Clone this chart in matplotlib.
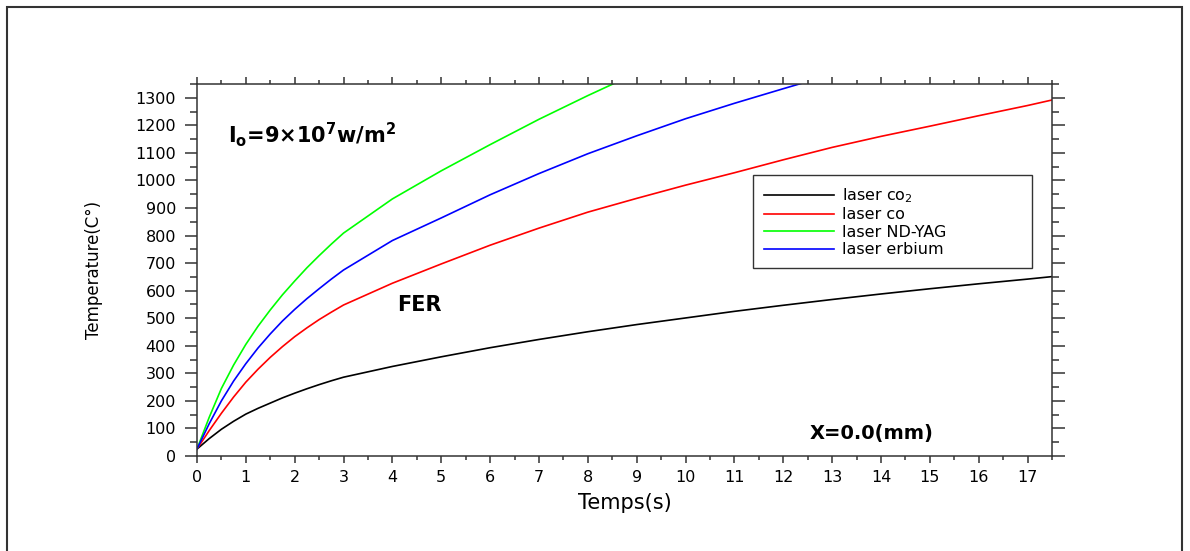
import matplotlib
matplotlib.use("Agg")
import matplotlib.pyplot as plt
from matplotlib.patches import Rectangle
from matplotlib.ticker import MultipleLocator

# data (temperature in C vs time in s)
t_all = [0, 0.25, 0.5, 0.75, 1, 1.25, 1.5, 1.75, 2, 2.25, 2.5, 2.75, 3,
         4, 5, 6, 7, 8, 9, 10, 11, 12, 13, 14, 15, 16, 17, 17.5]
temp_co2 = [25, 63, 97, 126, 152, 173, 192, 211, 228, 244, 259, 273, 286,
            325, 360, 393, 423, 451, 477, 501, 525, 547, 568, 588, 607, 625, 642, 651]
temp_co = [25, 92, 155, 214, 268, 315, 358, 397, 433, 465, 495, 522, 548,
           627, 697, 765, 827, 885, 935, 983, 1028, 1075, 1120, 1160, 1197, 1235, 1272, 1292]

t_yag = [0, 0.25, 0.5, 0.75, 1, 1.25, 1.5, 1.75, 2, 2.25, 2.5, 2.75, 3,
         4, 5, 6, 7, 8, 9]
temp_yag = [25, 140, 245, 330, 405, 471, 530, 585, 635, 683, 727, 769, 809,
            933, 1035, 1130, 1222, 1308, 1390]

t_erb = [0, 0.25, 0.5, 0.75, 1, 1.25, 1.5, 1.75, 2, 2.25, 2.5, 2.75, 3,
         4, 5, 6, 7, 8, 9, 10, 11, 12, 13]
temp_erb = [25, 117, 200, 272, 335, 392, 443, 490, 532, 571, 607, 642, 675,
            782, 864, 948, 1025, 1097, 1162, 1224, 1280, 1333, 1385]

labels = ["laser co$_2$", "laser co", "laser ND-YAG", "laser erbium"]
colors = ["black", "#ff0000", "#00ff00", "#0000ff"]

plt.rcParams["font.family"] = ["DejaVu Sans"]

fig = plt.figure(figsize=(11.9, 5.51), dpi=100)
ax = fig.add_axes([0.1655, 0.1724, 0.7185, 0.6751])

ax.plot(t_all, temp_co2, color=colors[0], lw=1.2, label=labels[0])
ax.plot(t_all, temp_co, color=colors[1], lw=1.2, label=labels[1])
ax.plot(t_yag, temp_yag, color=colors[2], lw=1.2, label=labels[2])
ax.plot(t_erb, temp_erb, color=colors[3], lw=1.2, label=labels[3])

ax.set_xlim(0, 17.5)
ax.set_ylim(0, 1350)
ax.xaxis.set_major_locator(MultipleLocator(1))
ax.xaxis.set_minor_locator(MultipleLocator(0.5))
ax.yaxis.set_major_locator(MultipleLocator(100))
ax.yaxis.set_minor_locator(MultipleLocator(50))

ax.tick_params(axis="x", which="both", direction="out", top=True, bottom=True,
               labelsize=11.5, pad=5, width=1.1, color="#333333")
ax.tick_params(axis="x", which="major", length=5)
ax.tick_params(axis="x", which="minor", length=2.8)
ax.tick_params(axis="y", which="both", direction="out", left=True, right=True,
               labelsize=11.5, pad=6, width=1.1, color="#333333")
ax.tick_params(axis="y", which="major", length=9)
ax.tick_params(axis="y", which="minor", length=5)
for sp in ax.spines.values():
    sp.set_linewidth(1.1)
    sp.set_color("#333333")

ax.set_xlabel("Temps(s)", fontsize=15)
ax.xaxis.set_label_coords(0.5, -0.10)
ax.set_ylabel("Temperature(C°)", fontsize=12)
ax.yaxis.set_label_coords(-0.110, 0.5)

ax.text(0.63, 1136, r"I$_\mathbf{o}$=9×10$^\mathbf{7}$w/m$^\mathbf{2}$",
        fontsize=15, fontweight="bold", ha="left", va="baseline")
ax.text(4.09, 548, "FER", fontsize=15, fontweight="bold", ha="left", va="center")
ax.text(12.55, 83, "X=0.0(mm)", fontsize=14, fontweight="bold", ha="left", va="center")

leg = ax.legend(loc="upper left", bbox_to_anchor=(0.650, 0, 0.3266, 0.755),
                mode="expand", borderaxespad=0, fancybox=False, frameon=True,
                fontsize=11.5, handlelength=4.4, handletextpad=0.5,
                labelspacing=0.15, borderpad=0.7)
leg.get_frame().set_edgecolor("#333333")
leg.get_frame().set_linewidth(1.0)
leg.get_frame().set_alpha(1)

# outer frame around the picture
fig.patches.append(Rectangle((7 / 1190, -0.1), 1175 / 1190, 1.1 - 7 / 551,
                             transform=fig.transFigure, fill=False,
                             edgecolor="#333333", linewidth=1.5))

fig.savefig("out.png", dpi=100)
